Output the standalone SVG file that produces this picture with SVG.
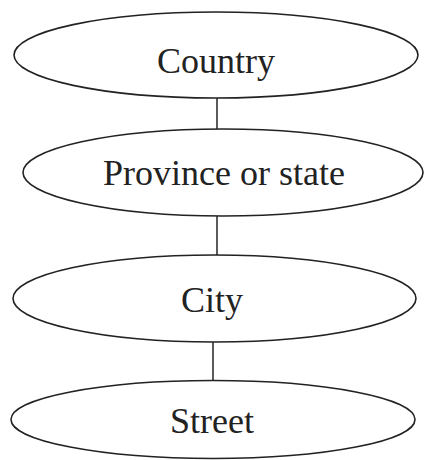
<svg xmlns="http://www.w3.org/2000/svg" width="425" height="460" viewBox="0 0 425 460">
<style>
.node ellipse{fill:#fff;stroke:#222;stroke-width:1.6}
.node text{font-family:"Liberation Serif","Times New Roman",serif;font-size:36px;fill:#222;text-anchor:middle}
.edges line{stroke:#333;stroke-width:1.6}
</style>
<rect width="425" height="460" fill="#fff"/>
<g class="edges">
<line x1="217" y1="98" x2="217" y2="129"/>
<line x1="217" y1="216" x2="217" y2="255"/>
<line x1="213" y1="342" x2="213" y2="381"/>
</g>
<g id="country" class="node">
<ellipse cx="216" cy="55" rx="202" ry="43"/>
<text x="216" y="73">Country</text>
</g>
<g id="province" class="node">
<ellipse cx="223" cy="172.5" rx="200" ry="43.5"/>
<text x="224" y="185">Province or state</text>
</g>
<g id="city" class="node">
<ellipse cx="214.5" cy="298.5" rx="201.5" ry="43.5"/>
<text x="212" y="312">City</text>
</g>
<g id="street" class="node">
<ellipse cx="213" cy="419.5" rx="202" ry="39"/>
<text x="212" y="433">Street</text>
</g>
</svg>
